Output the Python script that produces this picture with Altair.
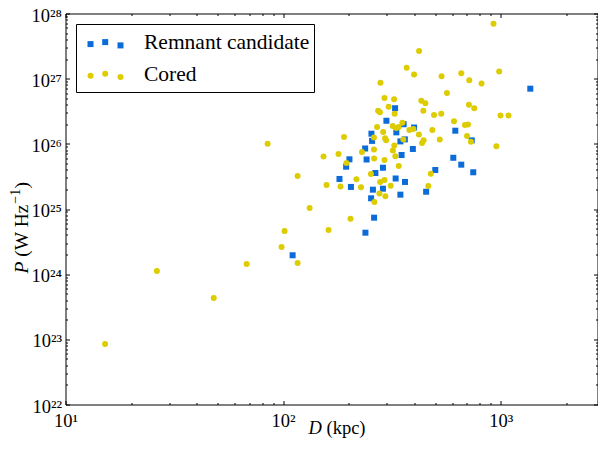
import altair as alt
import pandas as pd

# ---------------- data ----------------
# Remnant candidates: projected linear size D (kpc) and radio power P (W/Hz)
REM_D = [110.6, 181.6, 194.9, 201.8, 205.0, 238.3, 239.0, 242.0, 253.8, 254.7, 256.5, 258.7,
         262.0, 265.6, 287.7, 287.7, 298.4, 327.1, 329.1, 331.5, 346.0, 346.0, 350.4, 358.1,
         362.7, 363.4, 394.8, 400.0, 454.4, 500.6, 605.7, 618.6, 659.0, 736.3, 748.1, 1368]
REM_P = [1.95e24, 2.89e25, 4.46e25, 5.79e25, 2.18e25, 8.48e25, 4.33e24, 5.75e25, 1.46e25, 1.43e26,
         1.11e26, 1.98e25, 7.36e24, 3.57e25, 4.30e25, 2.05e25, 2.26e26, 3.52e26, 2.94e25, 1.50e26,
         1.09e26, 1.66e25, 6.74e25, 2.00e26, 1.17e26, 2.60e25, 8.34e25, 1.78e26, 1.84e25, 3.97e25,
         6.11e25, 1.59e26, 4.79e25, 1.13e26, 3.66e25, 7.02e26]

# Cored sources
CORED_D = [15.2, 26.3, 48.0, 68.0, 84.9, 98.4, 101.6, 116.6, 116.6, 132.4, 153.4, 158.4, 161.8,
           179.7, 183.6, 190.5, 195.5, 204.1, 217.3, 228.0, 230.4, 253.3, 261.5, 261.5, 262.0,
           262.8, 270.4, 273.3, 278.6, 279.2, 277.2, 280.1, 288.4, 292.4, 292.4, 292.4, 294.3,
           297.4, 295.2, 305.7, 312.3, 319.6, 319.0, 323.6, 325.6, 324.4, 328.1, 331.5, 339.8,
           339.8, 353.3, 357.0, 369.8, 380.5, 397.0, 399.9, 420.7, 421.6, 431.9, 435.1, 442.6,
           441.1, 450.6, 464.9, 477.4, 485.0, 493.8, 524.8, 533.3, 535.0, 566.6, 610.1, 659.0,
           685.3, 707.3, 700.6, 714.8, 717.1, 730.1, 755.9, 816.6, 926.8, 955.6, 984.2, 997.9, 1086]
CORED_P = [8.5e22, 1.12e24, 4.31e23, 1.43e24, 1.0e26, 2.61e24, 4.60e24, 1.49e24, 3.21e25, 1.04e25,
           6.39e25, 2.34e25, 4.76e24, 6.98e25, 2.21e25, 1.27e26, 5.08e25, 7.10e24, 2.86e25, 2.15e25,
           7.50e25, 3.44e25, 1.25e26, 8.19e25, 5.96e25, 1.28e25, 1.81e26, 3.23e26, 3.05e26, 2.60e25,
           1.73e25, 8.67e26, 1.52e26, 5.05e26, 5.65e25, 2.79e25, 1.22e26, 1.13e26, 1.57e25, 3.72e26,
           2.28e25, 7.91e25, 1.88e26, 4.82e26, 2.90e26, 9.43e25, 6.46e25, 1.75e26, 1.81e26, 4.57e25,
           2.11e26, 1.17e26, 1.47e27, 1.63e26, 1.69e26, 1.16e27, 1.39e26, 2.66e27, 4.59e26, 1.03e26,
           1.13e26, 3.23e26, 4.20e26, 2.25e25, 3.48e25, 1.63e26, 2.77e26, 1.17e26, 2.90e26, 1.09e27,
           6.03e26, 2.22e26, 1.21e27, 1.95e26, 1.98e26, 1.32e26, 3.99e26, 9.47e26, 1.08e26, 3.52e26,
           8.43e26, 6.97e27, 9.20e25, 1.29e27, 2.72e26, 2.72e26]

SERIES = ["Remnant candidate", "Cored"]
X_TICKS = [10, 100, 1000]
X_TICK_LABELS = ["10¹", "10²", "10³"]
Y_TICKS = [1e22, 1e23, 1e24, 1e25, 1e26, 1e27, 1e28]
Y_TICK_LABELS = ["10²²", "10²³", "10²⁴", "10²⁵", "10²⁶", "10²⁷", "10²⁸"]
X_DOMAIN = [10, 2786]
Y_DOMAIN = [1e22, 1e28]

# ---------------- styling ----------------
W, H = 532, 391
FONT = "Liberation Serif"
BLUE = "#0a6bd9"
YEL = "#ddcc00"
TICK_FS = 18.5
YT_FS = 19.5
LEG_FS = 21.5

rem = pd.DataFrame({"D": REM_D, "P": REM_P, "series": SERIES[0]})
cored = pd.DataFrame({"D": CORED_D, "P": CORED_P, "series": SERIES[1]})
one = pd.DataFrame({"a": [0]})

xs = alt.Scale(type="log", domain=X_DOMAIN, nice=False)
ys = alt.Scale(type="log", domain=Y_DOMAIN, nice=False)

x_minor = [m * 10 ** e for e in (1, 2) for m in range(2, 10)] + [2000]
y_minor = [m * 10.0 ** e for e in range(22, 28) for m in range(2, 10)]

x_expr = "[" + ",".join(f"'{s}'" for s in X_TICK_LABELS) + "][round(log(datum.value)/LN10) - 1]"
y_expr = "[" + ",".join(f"'{s}'" for s in Y_TICK_LABELS) + "][round(log(datum.value)/LN10) - 22]"


def tick_axis(orient, values, offset, size):
    return alt.Axis(orient=orient, values=values, offset=offset, title=None, grid=False,
                    domain=False, labels=False, ticks=True, tickSize=size,
                    tickColor="black", tickWidth=1)


x_lab = alt.Axis(orient="bottom", values=X_TICKS, title=None, grid=False, domain=False,
                 ticks=False, tickSize=0, labelExpr=x_expr, labelFont=FONT,
                 labelFontSize=TICK_FS, labelColor="black", labelPadding=7,
                 labelFlush=False, labelOverlap=False, labelBaseline="top")
y_lab = alt.Axis(orient="left", values=Y_TICKS, title=None, grid=False, domain=False,
                 ticks=False, tickSize=0, labelExpr=y_expr, labelFont=FONT,
                 labelFontSize=TICK_FS, labelColor="black", labelPadding=4,
                 labelBaseline="alphabetic", labelOffset=7.5,
                 labelFlush=False, labelOverlap=False)


def enc(xa, ya):
    return dict(x=alt.X("D:Q", scale=xs, axis=xa), y=alt.Y("P:Q", scale=ys, axis=ya))


blue_pts = alt.Chart(rem).mark_point(shape="square", filled=True, size=36, color=BLUE,
                                     opacity=1).encode(**enc(x_lab, y_lab))
yel_pts = alt.Chart(cored).mark_circle(size=36, color=YEL, opacity=1).encode(
    **enc(tick_axis("top", X_TICKS, -H, 4), tick_axis("right", Y_TICKS, -W, 4)))
inv1 = alt.Chart(cored).mark_circle(opacity=0).encode(
    **enc(tick_axis("top", x_minor, -H, 2), tick_axis("right", y_minor, -W, 2)))
inv2 = alt.Chart(cored).mark_circle(opacity=0).encode(
    **enc(tick_axis("bottom", X_TICKS, -H, 4), tick_axis("left", Y_TICKS, -W, 4)))
inv3 = alt.Chart(cored).mark_circle(opacity=0).encode(
    **enc(tick_axis("bottom", x_minor, -H, 2), tick_axis("left", y_minor, -W, 2)))

# ---------------- legend (drawn by hand, matplotlib style with 3 markers) ----------------
legend_layers = [
    alt.Chart(one).mark_rect(fill="white", stroke="black", strokeWidth=1).encode(
        x=alt.value(11), x2=alt.value(249), y=alt.value(11), y2=alt.value(79))
]
sym_dx = [25, 39.7, 55]
sym_dy = [2.0, 0.0, 3.3]
for row, (shape, col, base_y) in enumerate([("square", BLUE, 28.6), ("circle", YEL, 60.2)]):
    for dx, dy in zip(sym_dx, sym_dy):
        legend_layers.append(
            alt.Chart(one).mark_point(shape=shape, filled=True, size=36,
                                      color=col, opacity=1).encode(
                x=alt.value(dx), y=alt.value(base_y + dy)))
    legend_layers.append(
        alt.Chart(one).mark_text(align="left", baseline="middle", font=FONT, fontSize=LEG_FS,
                                 color="black").encode(
            x=alt.value(78.5), y=alt.value(base_y + 1), text=alt.value(SERIES[row])))


# ---------------- axis titles ----------------
def txt(s, x, y, size, italic=False, angle=None):
    kw = dict(align="left", baseline="middle", font=FONT, fontSize=size, color="black")
    if italic:
        kw["fontStyle"] = "italic"
    if angle is not None:
        kw["angle"] = angle
    return alt.Chart(one).mark_text(**kw).encode(x=alt.value(x), y=alt.value(y),
                                                 text=alt.value(s))


title_layers = [
    txt("D", 243, H + 23, TICK_FS, italic=True),
    txt("(kpc)", 261, H + 23, TICK_FS),
    txt("P", -43.5, 260, YT_FS, italic=True, angle=270),
    txt("(W Hz", -43.5, 243.2, YT_FS, angle=270),
    txt("\u22121", -49.5, 190.2, 14, angle=270),
    txt(")", -43.5, 175, YT_FS, angle=270),
]

chart = alt.layer(blue_pts, yel_pts, inv1, inv2, inv3, *legend_layers, *title_layers).resolve_axis(
    x="independent", y="independent"
).properties(
    width=W, height=H,
    autosize=alt.AutoSizeParams(type="none"),
    padding={"left": 57.5, "top": 5.5, "right": 0.5, "bottom": 33},
    background="white",
).configure_view(stroke="black", strokeWidth=1)

chart.save("out.html", embed_options={"renderer": "svg", "actions": False})
